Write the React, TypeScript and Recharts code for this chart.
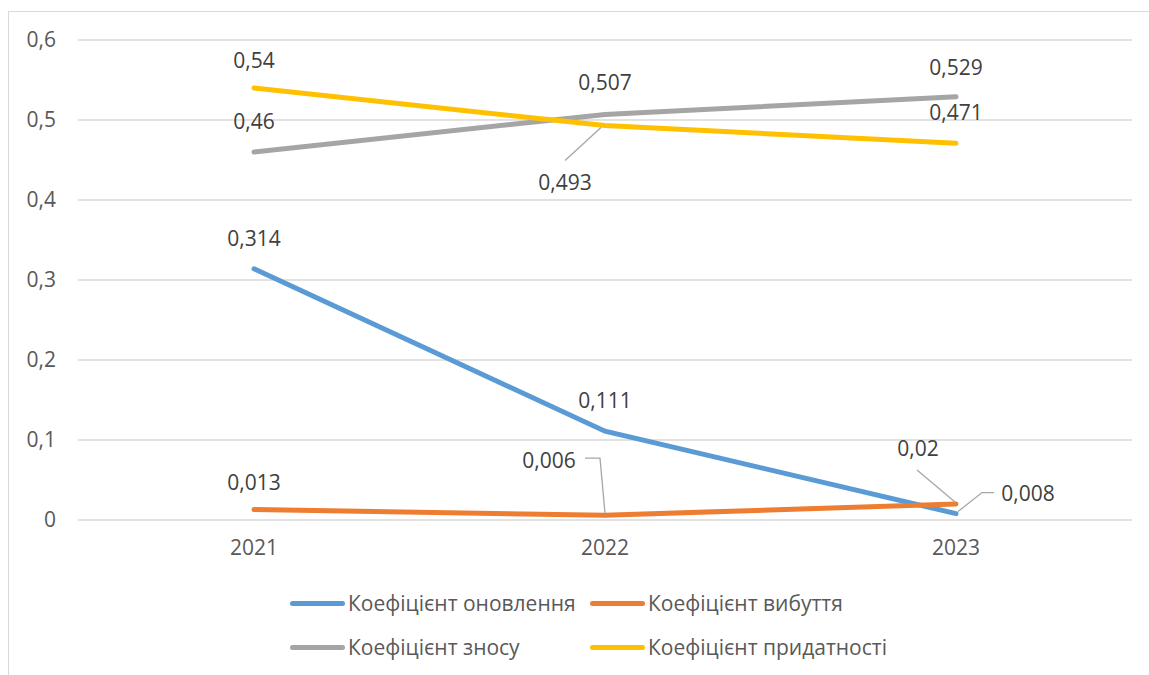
import { CartesianGrid, Line, LineChart, XAxis, YAxis } from 'recharts'

const years = ['2021', '2022', '2023']
const renewal = [0.314, 0.111, 0.008]
const disposal = [0.013, 0.006, 0.02]
const wear = [0.46, 0.507, 0.529]
const fitness = [0.54, 0.493, 0.471]
const yTicks = [0, 0.1, 0.2, 0.3, 0.4, 0.5, 0.6]

const FONT = "'Open Sans', 'Noto Sans', sans-serif"
const TEXT = '#595959'
const LABEL = '#404040'
const FS = 21

const data = years.map((year, i) => ({
  year,
  renewal: renewal[i],
  disposal: disposal[i],
  wear: wear[i],
  fitness: fitness[i],
}))

type Series = { key: 'renewal' | 'disposal' | 'wear' | 'fitness'; name: string; color: string }

const series: Series[] = [
  { key: 'renewal', name: 'Коефіцієнт оновлення', color: '#5B9BD5' },
  { key: 'disposal', name: 'Коефіцієнт вибуття', color: '#ED7D31' },
  { key: 'wear', name: 'Коефіцієнт зносу', color: '#A5A5A5' },
  { key: 'fitness', name: 'Коефіцієнт придатності', color: '#FFC000' },
]

// label placement relative to the point: [dx, dy, leader line?]
type Place = { dx: number; dy: number; leader?: number[][] }
const labelPlace: Record<Series['key'], Place[]> = {
  renewal: [
    { dx: 0, dy: -31 },
    { dx: 0, dy: -31 },
    { dx: 72, dy: -21, leader: [[2, -2], [26, -21], [38, -21]] },
  ],
  disposal: [
    { dx: 0, dy: -28 },
    { dx: -56, dy: -55, leader: [[0, -2], [-5, -57], [-20, -57]] },
    { dx: -38, dy: -56, leader: [[-1, -2], [-39, -34]] },
  ],
  wear: [
    { dx: 0, dy: -31 },
    { dx: 0, dy: -32 },
    { dx: 0, dy: -30 },
  ],
  fitness: [
    { dx: 0, dy: -28 },
    { dx: -40, dy: 56, leader: [[-4, 2], [-40, 35]] },
    { dx: 0, dy: -31 },
  ],
}

const fmt = (v: number) => String(v).replace('.', ',')

function makeLabel(key: Series['key']) {
  return (props: any) => {
    const { x, y, index, value } = props
    const p = labelPlace[key][index]
    if (!p || x == null || y == null) return null
    return (
      <g key={`${key}-${index}`}>
        {p.leader && (
          <polyline
            points={p.leader.map(([a, b]) => `${x + a},${y + b}`).join(' ')}
            fill='none'
            stroke='#A6A6A6'
            strokeWidth={1.3}
          />
        )}
        <text
          x={x + p.dx}
          y={y + p.dy}
          textAnchor='middle'
          dominantBaseline='central'
          fontFamily={FONT}
          fontSize={FS}
          fill={LABEL}
        >
          {fmt(value)}
        </text>
      </g>
    )
  }
}

export default function App() {
  return (
    <div style={{ position: 'absolute', left: 0, top: 0, width: 1149, height: 675, background: '#fff' }}>
      <div
        style={{
          position: 'absolute',
          left: 8,
          top: 11,
          width: 1160,
          height: 700,
          border: '1.5px solid #D9D9D9',
        }}
      />
      <div style={{ position: 'absolute', left: 0, top: 0 }}>
        <LineChart
          width={1149}
          height={675}
          data={data}
          margin={{ top: 40, right: 17, bottom: 125, left: 0 }}
        >
          <CartesianGrid vertical={false} stroke='#D9D9D9' strokeWidth={1.5} />
          <XAxis
            dataKey='year'
            height={30}
            padding={{ left: 176, right: 176 }}
            axisLine={false}
            tickLine={false}
            tickSize={0}
            tickMargin={20}
            tick={{ fill: TEXT, fontSize: FS, fontFamily: FONT }}
          />
          <YAxis
            width={78}
            domain={[0, 0.6]}
            ticks={yTicks}
            axisLine={false}
            tickLine={false}
            tickSize={0}
            tickMargin={22}
            tickFormatter={(v: number) => fmt(v)}
            tick={{ fill: TEXT, fontSize: FS, fontFamily: FONT }}
          />
          {series.map((s) => (
            <Line
              key={s.key}
              dataKey={s.key}
              name={s.name}
              type='linear'
              stroke={s.color}
              strokeWidth={5}
              strokeLinecap='round'
              dot={false}
              activeDot={false}
              isAnimationActive={false}
              label={makeLabel(s.key)}
            />
          ))}
        </LineChart>
      </div>
      <div
        style={{
          position: 'absolute',
          left: 290,
          top: 589,
          display: 'grid',
          gridTemplateColumns: '300px 300px',
          rowGap: 16,
          fontFamily: FONT,
          fontSize: FS,
          color: TEXT,
        }}
      >
        {series.map((s) => (
          <div key={s.key} style={{ display: 'flex', alignItems: 'center', height: 28 }}>
            <span
              style={{
                display: 'inline-block',
                width: 55,
                height: 5,
                borderRadius: 3,
                background: s.color,
                marginRight: 3,
                flexShrink: 0,
              }}
            />
            <span style={{ whiteSpace: 'nowrap' }}>{s.name}</span>
          </div>
        ))}
      </div>
    </div>
  )
}
